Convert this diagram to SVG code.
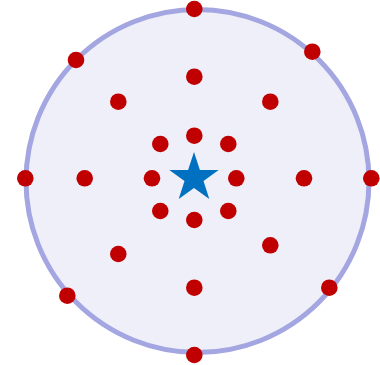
<svg xmlns="http://www.w3.org/2000/svg" width="380" height="365" viewBox="0 0 380 365">
<style>
.dot{fill:#C00000}
.ring{fill:#EFEFF9;stroke:#A3A6E0;stroke-width:5}
.star{fill:#0070C0}
</style>
<defs><circle id="d" r="8.3" class="dot"/></defs>
<rect width="380" height="365" fill="#FFFFFF"/>
<g id="region"><circle class="ring" cx="197.5" cy="181" r="171.5"/></g>
<g id="connectors"/>
<g id="center"><polygon class="star" points="194,152 199.9,169.9 218.7,170 203.5,181.1 209.3,199 194,188 178.7,199 184.5,181.1 169.3,170 188.1,169.9"/></g>
<g id="inner-ring">
<use href="#d" x="194.3" y="135.7"/>
<use href="#d" x="160.3" y="144"/>
<use href="#d" x="228.3" y="144"/>
<use href="#d" x="152" y="178.3"/>
<use href="#d" x="236.3" y="178.3"/>
<use href="#d" x="160.3" y="211"/>
<use href="#d" x="228.3" y="211"/>
<use href="#d" x="194.3" y="220"/>
</g>
<g id="middle-ring">
<use href="#d" x="194.3" y="76.7"/>
<use href="#d" x="118.3" y="101.7"/>
<use href="#d" x="270.3" y="101.7"/>
<use href="#d" x="84.7" y="178.3"/>
<use href="#d" x="304" y="178.3"/>
<use href="#d" x="118.3" y="254"/>
<use href="#d" x="270.3" y="245.3"/>
<use href="#d" x="194.3" y="287.7"/>
</g>
<g id="outer-ring">
<use href="#d" x="194.3" y="9"/>
<use href="#d" x="76" y="60"/>
<use href="#d" x="312.3" y="51.7"/>
<use href="#d" x="25.3" y="178.3"/>
<use href="#d" x="371.3" y="178.3"/>
<use href="#d" x="67.3" y="295.7"/>
<use href="#d" x="329.3" y="287.7"/>
<use href="#d" x="194.3" y="355"/>
</g>
</svg>
